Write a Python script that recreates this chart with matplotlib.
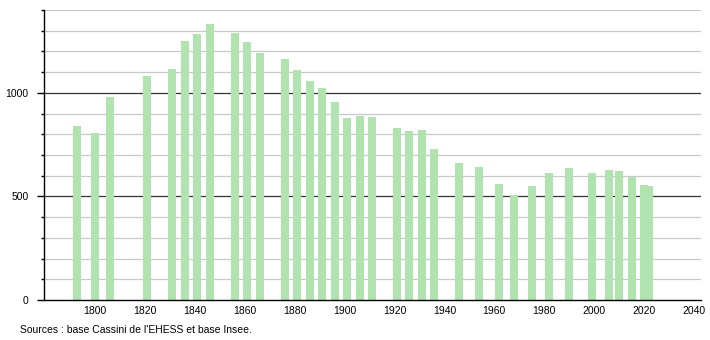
import numpy as np
import matplotlib
matplotlib.use("Agg")
import matplotlib.pyplot as plt

plt.rcParams["font.family"] = ["Liberation Sans", "DejaVu Sans"]

# recensements (annee, population)
annees = [1793, 1800, 1806, 1821, 1831, 1836, 1841, 1846, 1856, 1861, 1866,
          1876, 1881, 1886, 1891, 1896, 1901, 1906, 1911, 1921, 1926, 1931,
          1936, 1946, 1954, 1962, 1968, 1975, 1982, 1990, 1999, 2006, 2010,
          2015, 2020, 2022]
population = [840, 806, 980, 1080, 1116, 1251, 1286, 1333, 1290, 1245, 1193,
              1164, 1111, 1058, 1024, 955, 879, 888, 884, 830, 814, 820,
              729, 661, 643, 559, 506, 549, 612, 636, 612, 627, 622,
              593, 556, 548]

yticks_maj = [0, 500, 1000]
xticks = [1800, 1820, 1840, 1860, 1880, 1900, 1920, 1940, 1960, 1980, 2000, 2020, 2040]
source = "Sources : base Cassini de l'EHESS et base Insee."

fig = plt.figure(figsize=(7.1, 3.4), dpi=100)
ax = fig.add_axes([44/710, 40/340, 657/710, 290/340])

# grille
for v in range(100, 1500, 100):
    if v % 500 == 0:
        ax.axhline(v, color="#333333", lw=0.9, zorder=1)
    else:
        ax.axhline(v, color="#c8c8c8", lw=0.9, zorder=1)

ax.bar(annees, population, width=3.2, color="#b0e3b0", zorder=2)

ax.set_xlim(1779.6, 2042.8)
ax.set_ylim(0, 1400)

ax.set_xticks(xticks)
ax.set_xticklabels([str(x) for x in xticks])
ax.set_yticks(yticks_maj)
ax.set_yticks(range(0, 1500, 100), minor=True)
ax.tick_params(axis="x", length=0, labelsize=7.5, pad=4)
ax.tick_params(axis="y", which="major", length=5, width=1, labelsize=7.5, pad=6)
ax.tick_params(axis="y", which="minor", length=2.5, width=1)

for s in ["top", "right"]:
    ax.spines[s].set_visible(False)
ax.spines["left"].set_linewidth(1)
ax.spines["bottom"].set_linewidth(1)

fig.text(20/710, 1 - 330/340, source, fontsize=7.5, va="center", ha="left")

fig.savefig("out.png", dpi=100)
